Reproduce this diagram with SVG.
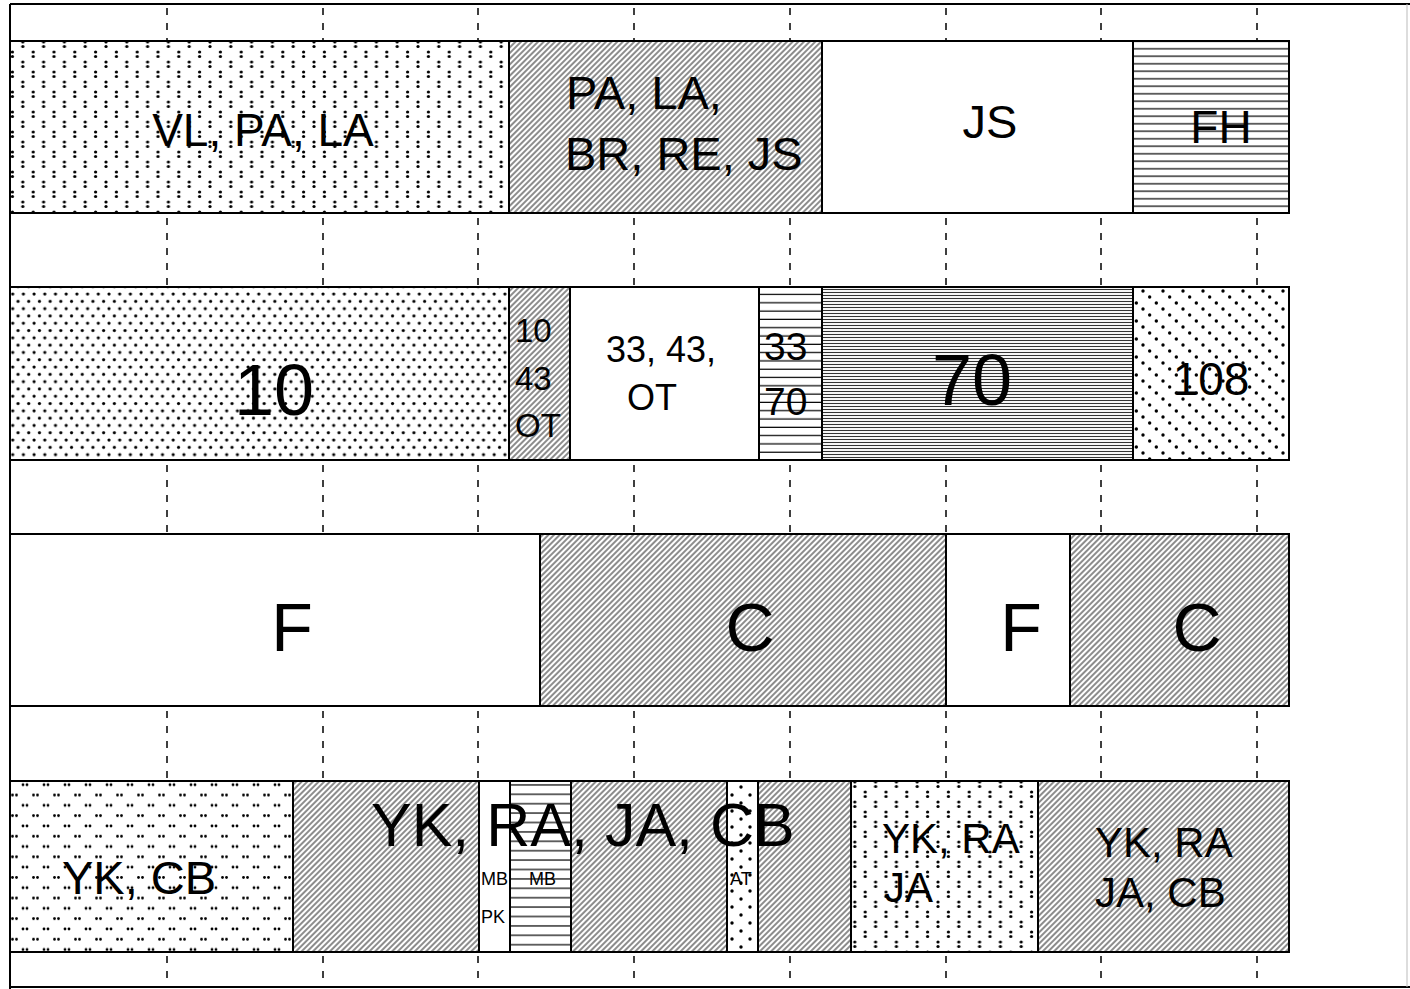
<svg xmlns="http://www.w3.org/2000/svg" width="1410" height="989" viewBox="0 0 1410 989">
<style>
.blk{stroke:#000;stroke-width:2}
.t{font-family:"Liberation Sans",Arial,sans-serif;fill:#000}
.dash{stroke:#000;stroke-width:1.5;stroke-dasharray:7 8;fill:none}
.frame{stroke:#000;stroke-width:2;fill:none}
</style>
<defs>
<pattern id="colon" patternUnits="userSpaceOnUse" width="20.8" height="20">
<rect width="20.8" height="20" fill="#fff"/>
<circle cx="2" cy="2" r="1.6"/><circle cx="2" cy="6.5" r="1.6"/>
<circle cx="12.4" cy="12" r="1.6"/><circle cx="12.4" cy="16.5" r="1.6"/>
</pattern>
<pattern id="dotsA" patternUnits="userSpaceOnUse" width="10.7" height="14.6">
<rect width="10.7" height="14.6" fill="#fff"/>
<circle cx="2" cy="2" r="1.6"/><circle cx="7.35" cy="9.3" r="1.6"/>
</pattern>
<pattern id="dotsB" patternUnits="userSpaceOnUse" width="20" height="18">
<rect width="20" height="18" fill="#fff"/>
<circle cx="3" cy="3" r="1.7"/><circle cx="9.67" cy="9" r="1.7"/><circle cx="16.33" cy="15" r="1.7"/>
</pattern>
<pattern id="pairs" patternUnits="userSpaceOnUse" width="21" height="20.6">
<rect width="21" height="20.6" fill="#fff"/>
<circle cx="2" cy="2" r="1.4"/><circle cx="6" cy="2" r="1.4"/>
<circle cx="12.5" cy="12.3" r="1.4"/><circle cx="16.5" cy="12.3" r="1.4"/>
</pattern>
<pattern id="dotsAT" patternUnits="userSpaceOnUse" width="18" height="16">
<rect width="18" height="16" fill="#fff"/>
<circle cx="3" cy="3" r="1.7"/><circle cx="12" cy="11" r="1.7"/>
</pattern>
<pattern id="hatch" patternUnits="userSpaceOnUse" width="4" height="10" patternTransform="rotate(45)">
<rect width="4" height="10" fill="#fff"/>
<line x1="2" y1="0" x2="2" y2="10" stroke="#000" stroke-width="0.9"/>
</pattern>
<pattern id="hl7" patternUnits="userSpaceOnUse" width="10" height="7.5">
<rect width="10" height="7.5" fill="#fff"/>
<line x1="0" y1="3.75" x2="10" y2="3.75" stroke="#000" stroke-width="1.2"/>
</pattern>
<pattern id="hl8" patternUnits="userSpaceOnUse" width="10" height="8.3">
<rect width="10" height="8.3" fill="#fff"/>
<line x1="0" y1="4" x2="10" y2="4" stroke="#000" stroke-width="1.2"/>
</pattern>
<pattern id="hl9" patternUnits="userSpaceOnUse" width="10" height="9.4">
<rect width="10" height="9.4" fill="#fff"/>
<line x1="0" y1="4.7" x2="10" y2="4.7" stroke="#000" stroke-width="1.2"/>
</pattern>
<pattern id="hdense" patternUnits="userSpaceOnUse" width="10" height="3">
<rect width="10" height="3" fill="#fff"/>
<line x1="0" y1="1.5" x2="10" y2="1.5" stroke="#333" stroke-width="1.1"/>
</pattern>
</defs>
<rect width="1410" height="989" fill="#fff"/>

<g id="connectors">
<g id="gridlines">
<path class="dash" d="M167 8V41M323 8V41M478 8V41M634 8V41M790 8V41M946 8V41M1101 8V41M1257 8V41"/>
<path class="dash" d="M167 218V287M323 218V287M478 218V287M634 218V287M790 218V287M946 218V287M1101 218V287M1257 218V287"/>
<path class="dash" d="M167 465V534M323 465V534M478 465V534M634 465V534M790 465V534M946 465V534M1101 465V534M1257 465V534"/>
<path class="dash" d="M167 711V780M323 711V780M478 711V780M634 711V780M790 711V780M946 711V780M1101 711V780M1257 711V780"/>
<path class="dash" d="M167 956V987M323 956V987M478 956V987M634 956V987M790 956V987M946 956V987M1101 956V987M1257 956V987"/>
</g>
</g>

<g id="frame">
<path class="frame" d="M10 4H1410M10 4V989M10 987H1410"/>
<line x1="1407" y1="4" x2="1407" y2="987" stroke="#bbb" stroke-width="1"/>
</g>

<g id="row1">
<g id="r1a"><rect class="blk" x="10" y="41" width="499" height="172" fill="url(#colon)"/>
<text class="t" x="263" y="146" font-size="46" text-anchor="middle">VL, PA, LA</text></g>
<g id="r1b"><rect class="blk" x="509" y="41" width="313" height="172" fill="url(#hatch)"/>
<text class="t" x="566" y="109" font-size="47">PA, LA,</text>
<text class="t" x="565" y="170" font-size="47">BR, RE, JS</text></g>
<g id="r1c"><rect class="blk" x="822" y="41" width="311" height="172" fill="#fff"/>
<text class="t" x="990" y="138" font-size="47" text-anchor="middle">JS</text></g>
<g id="r1d"><rect class="blk" x="1133" y="41" width="156" height="172" fill="url(#hl7)"/>
<text class="t" x="1221" y="143" font-size="46" text-anchor="middle">FH</text></g>
</g>

<g id="row2">
<g id="r2a"><rect class="blk" x="10" y="287" width="499" height="173" fill="url(#dotsA)"/>
<text class="t" x="274" y="415" font-size="72" text-anchor="middle">10</text></g>
<g id="r2b"><rect class="blk" x="509" y="287" width="61" height="173" fill="url(#hatch)"/>
<text class="t" x="515" y="342" font-size="33">10</text>
<text class="t" x="515" y="390" font-size="33">43</text>
<text class="t" x="515" y="437" font-size="33">OT</text></g>
<g id="r2c"><rect class="blk" x="570" y="287" width="189" height="173" fill="#fff"/>
<text class="t" x="606" y="362" font-size="36">33, 43,</text>
<text class="t" x="627" y="410" font-size="36">OT</text></g>
<g id="r2d"><rect class="blk" x="759" y="287" width="63" height="173" fill="url(#hl8)"/>
<text class="t" x="764" y="360" font-size="39">33</text>
<text class="t" x="764" y="415" font-size="39">70</text></g>
<g id="r2e"><rect class="blk" x="822" y="287" width="311" height="173" fill="url(#hdense)"/>
<text class="t" x="972" y="405" font-size="72" text-anchor="middle">70</text></g>
<g id="r2f"><rect class="blk" x="1133" y="287" width="156" height="173" fill="url(#dotsB)"/>
<text class="t" x="1211" y="395" font-size="46" text-anchor="middle">108</text></g>
</g>

<g id="row3">
<g id="r3a"><rect class="blk" x="10" y="534" width="530" height="172" fill="#fff"/>
<text class="t" x="292" y="651" font-size="68" text-anchor="middle">F</text></g>
<g id="r3b"><rect class="blk" x="540" y="534" width="406" height="172" fill="url(#hatch)"/>
<text class="t" x="750" y="651" font-size="68" text-anchor="middle">C</text></g>
<g id="r3c"><rect class="blk" x="946" y="534" width="124" height="172" fill="#fff"/>
<text class="t" x="1021" y="651" font-size="68" text-anchor="middle">F</text></g>
<g id="r3d"><rect class="blk" x="1070" y="534" width="219" height="172" fill="url(#hatch)"/>
<text class="t" x="1197" y="651" font-size="68" text-anchor="middle">C</text></g>
</g>

<g id="row4">
<g id="r4a"><rect class="blk" x="10" y="781" width="283" height="171" fill="url(#pairs)"/>
<text class="t" x="62" y="894" font-size="47">YK, CB</text></g>
<g id="r4b"><rect class="blk" x="293" y="781" width="186" height="171" fill="url(#hatch)"/></g>
<g id="r4c"><rect class="blk" x="479" y="781" width="31" height="171" fill="#fff"/>
<text class="t" x="481" y="885" font-size="18">MB</text>
<text class="t" x="481" y="923" font-size="18">PK</text></g>
<g id="r4d"><rect class="blk" x="510" y="781" width="61" height="171" fill="url(#hl9)"/>
<text class="t" x="529" y="885" font-size="18">MB</text></g>
<g id="r4e"><rect class="blk" x="571" y="781" width="156" height="171" fill="url(#hatch)"/></g>
<g id="r4f"><rect class="blk" x="727" y="781" width="31" height="171" fill="url(#dotsAT)"/>
<text class="t" x="730" y="885" font-size="18">AT</text></g>
<g id="r4g"><rect class="blk" x="758" y="781" width="93" height="171" fill="url(#hatch)"/></g>
<g id="r4h"><rect class="blk" x="851" y="781" width="187" height="171" fill="url(#colon)"/>
<text class="t" x="882" y="853" font-size="42">YK, RA</text>
<text class="t" x="884" y="902" font-size="42">JA</text></g>
<g id="r4i"><rect class="blk" x="1038" y="781" width="251" height="171" fill="url(#hatch)"/>
<text class="t" x="1095" y="857" font-size="42">YK, RA</text>
<text class="t" x="1095" y="907" font-size="42">JA, CB</text></g>
<g id="r4label"><text class="t" x="371" y="846" font-size="61">YK, RA, JA, CB</text></g>
</g>
</svg>
